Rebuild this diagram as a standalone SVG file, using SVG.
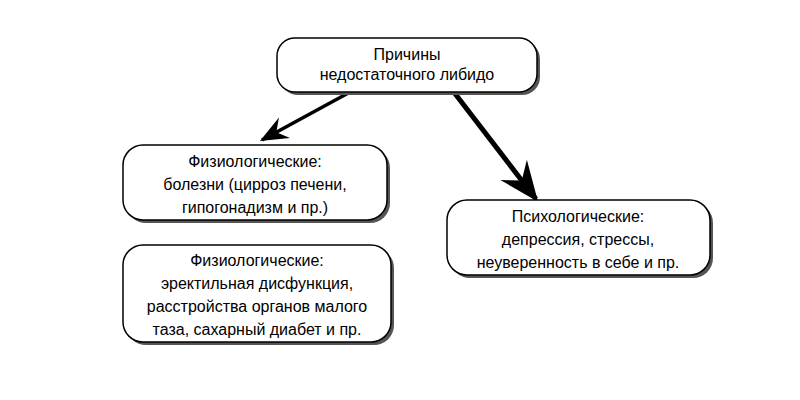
<svg xmlns="http://www.w3.org/2000/svg" width="800" height="400" viewBox="0 0 800 400">
<style>
.box{fill:#fff;stroke:#000;stroke-width:1.5}
.sh{fill:#555}
text{font-family:"Liberation Sans",Arial,sans-serif;font-size:16px;fill:#000;text-anchor:middle}
.c{stroke:#000;fill:none}
</style>
<defs>
<marker id="ah" viewBox="0 0 12 10" refX="11" refY="5" markerWidth="12" markerHeight="10" markerUnits="userSpaceOnUse" orient="auto">
<path d="M0,0 L12,5 L0,10 L4,5 Z" fill="#000"/>
</marker>
<marker id="ah2" viewBox="0 0 12 10" refX="11" refY="5" markerWidth="8" markerHeight="7" orient="auto">
<path d="M0,0 L12,5 L0,10 L4,5 Z" fill="#000"/>
</marker>
</defs>
<rect width="800" height="400" fill="#fff"/>
<g id="connectors">
<line class="c" x1="352" y1="91" x2="262" y2="140" stroke-width="3.5" marker-end="url(#ah2)"/>
<line class="c" x1="453" y1="91" x2="536" y2="199" stroke-width="5" marker-end="url(#ah2)"/>
</g>
<g id="n0">
<rect class="sh" x="280" y="41" width="260" height="54" rx="18"/>
<rect class="box" x="277" y="38" width="260" height="54" rx="18"/>
<text x="407" y="60">Причины</text>
<text x="407" y="80">недостаточного либидо</text>
</g>
<g id="n1">
<rect class="sh" x="126" y="148" width="264" height="75" rx="20"/>
<rect class="box" x="123" y="145" width="264" height="75" rx="20"/>
<text x="255" y="167">Физиологические:</text>
<text x="255" y="190">болезни (цирроз печени,</text>
<text x="255" y="213">гипогонадизм и пр.)</text>
</g>
<g id="n2">
<rect class="sh" x="126" y="248" width="268" height="97" rx="20"/>
<rect class="box" x="123" y="245" width="268" height="97" rx="20"/>
<text x="257" y="266">Физиологические:</text>
<text x="257" y="289">эректильная дисфункция,</text>
<text x="257" y="312">расстройства органов малого</text>
<text x="257" y="335">таза, сахарный диабет и пр.</text>
</g>
<g id="n3">
<rect class="sh" x="450" y="203" width="263" height="75" rx="20"/>
<rect class="box" x="447" y="200" width="263" height="75" rx="20"/>
<text x="578" y="222">Психологические:</text>
<text x="578" y="245">депрессия, стрессы,</text>
<text x="578" y="268">неуверенность в себе и пр.</text>
</g>
</svg>
